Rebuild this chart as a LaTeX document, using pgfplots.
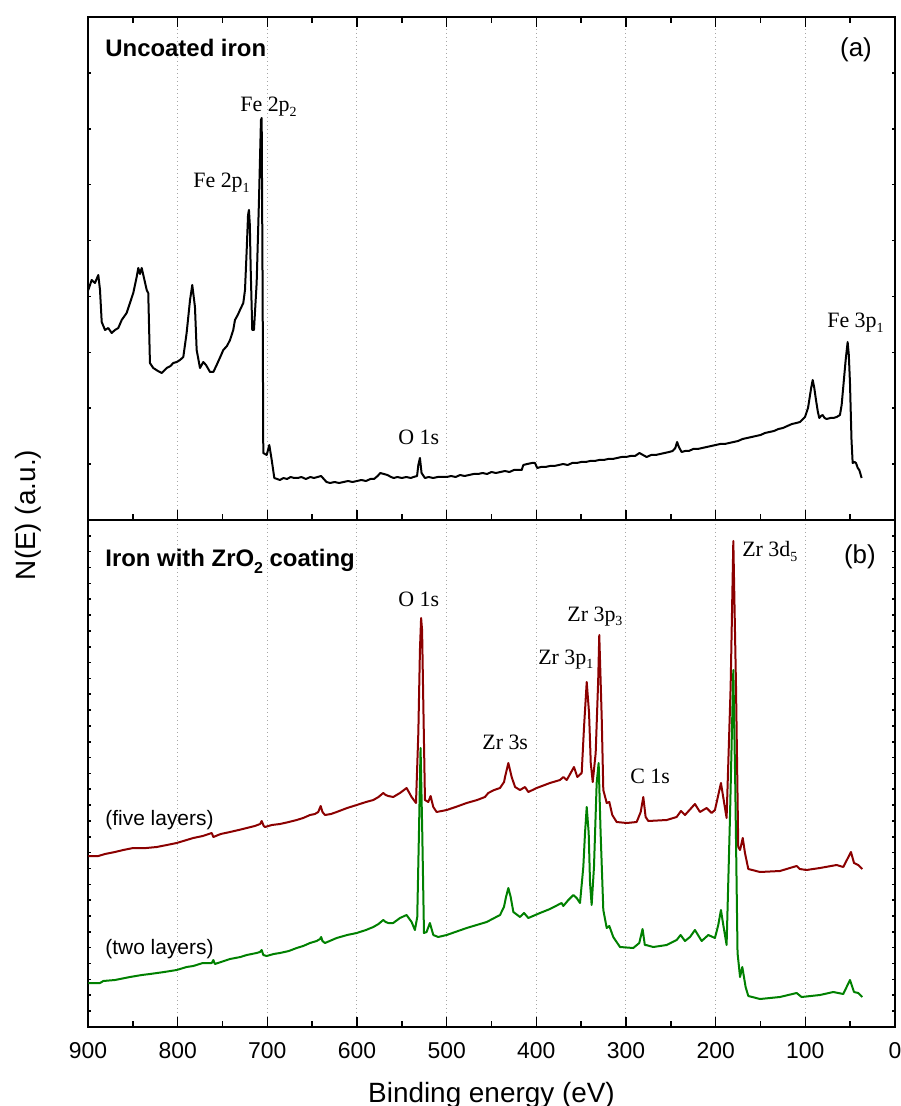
\documentclass[border=0pt]{standalone}
\usepackage{fontspec}
\setmainfont{Liberation Sans}
\newfontfamily\seriffont{Liberation Serif}
\usepackage{pgfplots}
\pgfplotsset{compat=1.18}
\definecolor{darkred}{RGB}{139,0,0}
\definecolor{mygreen}{RGB}{0,128,0}
\pgfplotsset{
  myaxis/.style={
    scale only axis, width=403.5bp,
    xmin=0, xmax=900, x dir=reverse,
    y dir=reverse,
    xtick={0,100,...,900},
    minor xtick={50,150,...,850},
    tick align=inside,
    major tick length=5bp, minor tick length=3bp,
    every tick/.style={black, line width=0.8bp},
    axis line style={line width=1bp},
    xmajorgrids,
    major grid style={gray!70, line width=0.5bp, dash pattern=on 0.5bp off 1.5bp},
    ytick=\empty,
    extra tick style={major tick length=1.5bp, grid=none},
    extra y tick labels={},
    every axis plot/.append style={line width=1bp, line join=round},
    /pgf/number format/assume math mode=true,
  }
}
\newcommand{\ann}{\seriffont\fontsize{11}{13}\selectfont}
\newcommand{\sub}[1]{\raisebox{-0.45ex}{\fontsize{7}{8}\selectfont #1}}
\newcommand{\bsub}[1]{\raisebox{-0.5ex}{\fontsize{8}{9}\selectfont #1}}
\begin{document}
\begin{tikzpicture}
% ---------------- panel (a) ----------------
\begin{axis}[myaxis, at={(44bp,293bp)}, anchor=south west, height=251.5bp,
  ymin=17, ymax=520, xticklabels={},
  extra y ticks={72.89,128.78,184.67,240.56,296.44,352.33,408.22,464.11}]
\addplot[black] coordinates {
(899.6,290)(895.9,280)(892.2,283)(888.5,275)(886.6,290)(884.7,322)(881.0,330)(877.4,328)(873.6,333)(869.9,330)(866.2,328)(862.4,320)(856.9,313)(853.2,303)(849.5,293)(845.7,277)(843.9,268)(842.0,274)(840.1,268)(838.3,275)(834.5,290)(832.8,293)(830.9,363)(827.2,368)(822,371)(817.8,373)(812.2,368)(808,366)(804.9,363)(801,362)(797.4,360)(793.7,357)(790.0,333)(786.2,300)(783.7,285)(780.7,307)(778.8,350)(775.1,368)(771.4,362)(768.4,365)(763.9,372)(760.2,372)(756.5,365)(752,356)(749.1,350)(745,346)(741.6,340)(738,330)(736.1,320)(733,315)(730.5,310)(726.8,303)(724.9,290)(723.0,250)(721.5,215)(720.5,210)(719.5,225)(718.6,267)(716.8,330)(714.9,330)(711.9,283)(709.3,200)(707.1,120)(706.3,118)(705.2,300)(704.5,453)(700.7,455)(697.8,445)(695.1,460)(692.2,478)
(689,479)(686,480)(682,478)(678,479)(674,477)(670,478)(666,478)(662,477)(657,479)(652,477)(648,478)(644,477)(640,476)(637,479)(634,482)(630,483)(625,482)(620,483)(615,482)(610,481)(605,482)(600,481)(595,480)(590,481)(585,479)(581,479)(577,476)(574,473)(570,474)(566,475)(562,477)(559,478)(555,477)(550,478)(545,477)(540,478)(537,477)(533,476)(531.6,465)(529.8,458)(528.0,473)(524.2,478)(520,477)(515,478)(510,477)(505,477)(500,477)(495,476)(490,477)(485,475)(480,476)(475,475)(470,474)(465,474)(460,473)(455,474)(450,472)(445,473)(440,472)(435,471)(430,472)(425,470)(420,470)(416.3,470)(414.5,465)(410,464)(405,463)(401.5,463)(399,468)(395,467)(390,467)(385,466)(380,466)(375,465)(370,464)(365,465)(360,463)(355,463)(350,462)(345,462)(340,461)(335,461)(330,460)(325,460)(320,459)(315,459)(310,458)(305,457)(300,457)(295,456)(290,456)(285,453)(281,455)(277,457)(272,455)(267,455)(262,454)(257,453)(252,452)(248,451)(245,448)(243,442)(241,447)(238,452)(234,451)(230,451)(225,449)(220,449)(215,448)(210,447)(205,446)(200,445)(195,444)(190,444)(185,443)(180,442)(175,441)(170,439)(165,438)(160,437)(155,436)(150,435)(145,433)(140,432)(135,431)(130,429)(125,428)(120,426)(115,424)(110,423)(106,422)(100.4,417)(97,408)(95.6,400)(93.5,388)(91.8,380)(90,388)(88.1,400)(86,412)(84.4,418)(82.5,416)(80.7,415)(78.5,418)(76.2,419)(72,418)(68.8,418)(65,417)(61.4,415)(59.5,405)(57.7,387)(55,360)(52.8,342)(51.5,355)(50.2,383)(48.5,440)(47.2,463)(45,462)(43.5,463)(41.5,468)(39.8,470)(37.2,478)
};
\node[anchor=base west, inner sep=0pt, font=\bfseries\fontsize{12}{14}\selectfont] at (axis cs:881,57) {Uncoated iron};
\node[anchor=center, inner sep=0pt, font=\fontsize{13}{15}\selectfont] at (axis cs:43.5,50) {(a)};
\node[anchor=base west, inner sep=0pt, font=\ann] at (axis cs:730.5,112) {Fe 2p\sub{2}};
\node[anchor=base west, inner sep=0pt, font=\ann] at (axis cs:782.9,188) {Fe 2p\sub{1}};
\node[anchor=base west, inner sep=0pt, font=\ann] at (axis cs:554.3,445) {O 1s};
\node[anchor=base west, inner sep=0pt, font=\ann] at (axis cs:75.9,328) {Fe 3p\sub{1}};
\end{axis}
% ---------------- panel (b) ----------------
\begin{axis}[myaxis, at={(44bp,39.5bp)}, anchor=south west, height=253.5bp,
  ymin=520, ymax=1027, xtick pos=left,
  xticklabel style={font=\fontsize{11.5}{13}\selectfont, inner sep=0pt, anchor=north, yshift=-7.5bp},
  extra y ticks={535.84,551.68,...,1012}]
\addplot[darkred] coordinates {
(899.6,856)(888.5,856)(881.0,854)(870,852)(860.6,850)(849.5,848)(835,848)(823.4,847)(812,845)(801.1,843)(790,840)(782.6,838)(772,836)(762.0,833)(760.2,837)(752,834)(741.6,832)(732,830)(723.0,828)(714,826)(708,824)(706.3,821)(704,826)(702.6,827)(695,825)(685.9,824)(676,822)(667.3,820)(660,818)(652.4,815)(647,814)(643.2,812)(640.5,806)(638.5,812)(635.7,815)(629,814)(622.7,812)(611,808)(600.3,805)(590,802)(581.8,800)(576,797)(570.7,793)(568,795)(565.1,796)(559.6,797)(552.1,793)(544.7,788)(539.1,797)(534.2,803)(531.6,733)(529.8,650)(528.5,618)(527.4,630)(526.1,700)(524.2,800)(520.5,802)(517.9,796)(514.9,807)(511.2,812)(500.0,810)(490,807)(477.7,803)(466,800)(457.3,797)(453.6,793)(447,790)(440.5,788)(436,782)(434.9,777)(431.2,763)(427.5,777)(423.7,787)(418.2,790)(412.6,787)(408.9,792)(399.6,788)(384.8,783)(373.6,780)(369.9,777)(366.1,780)(361.7,773)(358.0,767)(354.3,777)(349.4,773)(346.8,727)(343.8,682)(341.2,713)(339.3,763)(337.1,782)(333.8,753)(331,680)(329.8,635)(327.1,717)(325.3,790)(321.5,803)(318.6,802)(315.3,815)(310.4,822)(299.2,823)(288.1,822)(283.6,812)(280.7,797)(278.1,817)(275.1,821)(254.6,820)(243.5,817)(238.7,811)(234.2,815)(223.1,804)(217.5,812)(210.1,808)(204.5,813)(200.8,810)(194.1,783)(187.8,818)(183.3,687)(180.3,541)(177.3,687)(174.8,847)(172.8,850)(169.8,838)(167.3,853)(163.6,869)(150.5,872)(128.3,871)(117.2,868)(109.7,866)(106.1,869)(98.7,870)(83.7,868)(65.1,865)(57.7,867)(49.1,852)(45.7,863)(41,865)(36.5,869)
};
\addplot[mygreen] coordinates {
(899.6,983)(886.6,983)(882.9,981)(870,980)(853.2,977)(840,975)(830.9,974)(815,972)(801.1,970)(790,967)(782.6,966)(772,963)(762,963)(760.2,960)(758.5,964)(741.6,959)(730,957)(723.0,955)(712,953)(708.2,952)(706.3,950)(704.5,955)(700.7,956)(693,954)(685.9,953)(676,951)(667.3,948)(660,946)(652.4,943)(645,941)(641.2,939)(640,937)(638.5,941)(635.7,943)(622.7,938)(611,935)(600.3,933)(590,930)(581.8,927)(576,924)(570.7,920)(568,922)(565.1,923)(559.6,923)(552.1,918)(544.7,915)(539.1,922)(535.4,930)(532.8,917)(530.9,833)(529.1,748)(527.2,833)(525.3,933)(522.4,932)(518.7,923)(514.9,935)(509.4,937)(500.0,935)(477.7,928)(455.4,922)(440.5,915)(436.1,907)(433.8,897)(431.2,888)(428.6,897)(425.6,912)(418.2,917)(413.7,913)(408.9,918)(395.9,913)(384.8,909)(371.8,903)(369.9,906)(364.3,900)(358.7,895)(355,898)(351.3,903)(347.6,867)(345.7,833)(343.8,807)(341.6,833)(340.1,883)(338.3,905)(335.7,867)(332.7,783)(330.5,763)(328.3,833)(325.3,910)(321.5,928)(318.6,926)(314.2,937)(306.7,947)(291.9,948)(285.2,943)(281.5,929)(279,945)(277.7,945)(269.6,947)(254.6,945)(243.5,940)(239.1,935)(234.2,941)(228.6,937)(223.1,930)(215.6,941)(208.2,935)(200.8,938)(197.1,925)(194.1,910)(191.5,925)(187.8,945)(184.1,820)(180.3,670)(178.1,787)(175.6,953)(172.8,977)(170.3,967)(166.6,987)(163.6,996)(150.5,999)(128.3,997)(109.7,993)(104.2,997)(83.7,995)(68.8,992)(57.7,994)(50.2,980)(45.7,992)(41,993)(36.5,997)
};
\node[anchor=base west, inner sep=0pt, font=\bfseries\fontsize{12}{14}\selectfont] at (axis cs:881,567) {Iron with ZrO\bsub{2} coating};
\node[anchor=center, inner sep=0pt, font=\fontsize{13}{15}\selectfont] at (axis cs:39.1,557) {(b)};
\node[anchor=base west, inner sep=0pt, font=\fontsize{10.5}{12}\selectfont] at (axis cs:881,825) {(five layers)};
\node[anchor=base west, inner sep=0pt, font=\fontsize{10.5}{12}\selectfont] at (axis cs:881,954) {(two layers)};
\node[anchor=base west, inner sep=0pt, font=\ann] at (axis cs:554.3,606) {O 1s};
\node[anchor=base west, inner sep=0pt, font=\ann] at (axis cs:460.6,749) {Zr 3s};
\node[anchor=base west, inner sep=0pt, font=\ann] at (axis cs:398.2,664) {Zr 3p\sub{1}};
\node[anchor=base west, inner sep=0pt, font=\ann] at (axis cs:365.8,621) {Zr 3p\sub{3}};
\node[anchor=base west, inner sep=0pt, font=\ann] at (axis cs:295.6,783) {C 1s};
\node[anchor=base west, inner sep=0pt, font=\ann] at (axis cs:170.7,557) {Zr 3d\sub{5}};
\end{axis}
\node[anchor=base, inner sep=0pt, font=\fontsize{14}{16}\selectfont] at (245.75bp,2bp) {Binding energy (eV)};
\node[anchor=center, rotate=90, inner sep=0pt, font=\fontsize{14}{16}\selectfont] at (14bp,295.5bp) {N(E) (a.u.)};
\pgfresetboundingbox
\useasboundingbox (0,0) rectangle (450.5bp,553bp);
\end{tikzpicture}
\end{document}
